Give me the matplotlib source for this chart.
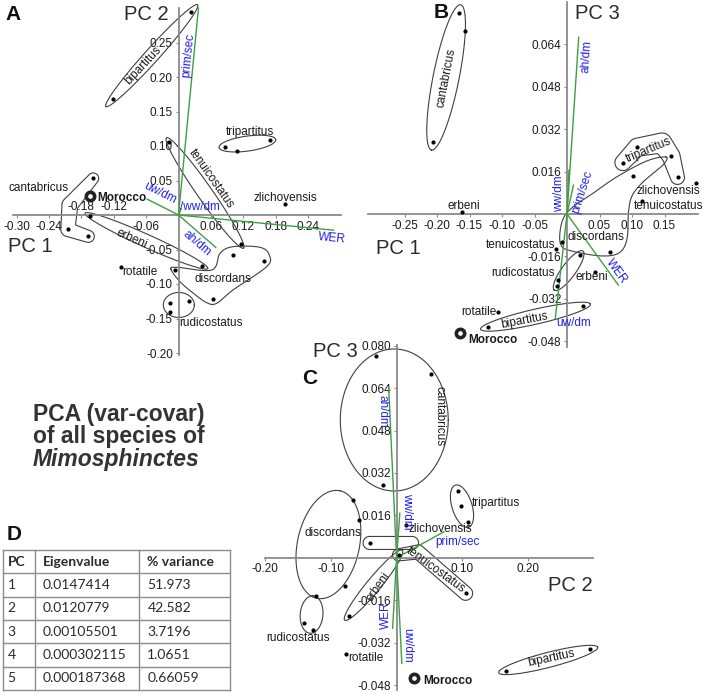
import numpy as np
import matplotlib.pyplot as plt

plt.rcParams['font.family'] = ['Liberation Sans', 'DejaVu Sans']

W, H = 709, 694
GREEN = '#3f9f3f'
BLUE = '#2222e8'
LINE = '#404040'
AXIS = '#8a8a8a'
TXT = '#1a1a1a'

# ---------------- panel A : PC 1 vs PC 2 ----------------
A_pts = {
    'bipartitus': [(0.023, 0.294), (-0.122, 0.168)],
    'tripartitus': [(0.086, 0.099), (0.109, 0.093), (0.169, 0.108)],
    'tenuicostatus': [(-0.017, 0.106), (0.115, -0.042)],
    'zlichovensis': [(0.198, 0.016)],
    'cantabricus': [(-0.158, 0.053), (-0.205, -0.021), (-0.167, -0.031)],
    'erbeni': [(-0.163, -0.001), (0.044, -0.074)],
    'discordans': [(0.100, -0.058), (0.159, -0.066), (0.064, -0.122), (-0.007, -0.080)],
    'rotatile': [(-0.107, -0.075)],
    'rudicostatus': [(-0.016, -0.127), (0.020, -0.124), (-0.016, -0.141)],
}
A_morocco = (-0.164, 0.028)
A_vec = {'prim/sec': (0.037, 0.300), 'uw/dm': (-0.058, 0.023), 'ww/dm': (0.005, 0.009),
         'ah/dm': (0.069, -0.047), 'WER': (0.287, -0.022)}
A_xticks = [-0.30, -0.24, -0.18, -0.12, -0.06, 0.06, 0.12, 0.18, 0.24]
A_yticks = [-0.20, -0.15, -0.10, -0.05, 0.05, 0.10, 0.15, 0.20, 0.25]

# ---------------- panel B : PC 1 vs PC 3 ----------------
B_pts = {
    'cantabricus': [(-0.166, 0.0760), (-0.157, 0.0692), (-0.206, 0.0271)],
    'erbeni': [(-0.162, 0.0006), (0.043, -0.0218)],
    'rotatile': [(-0.106, -0.0369)],
    'bipartitus': [(-0.121, -0.0428), (0.024, -0.0347)],
    'tripartitus': [(0.086, 0.0194), (0.108, 0.0252), (0.160, 0.0219), (0.170, 0.0138)],
    'zlichovensis': [(0.198, 0.0116)],
    'tenuicostatus': [(0.116, 0.0049), (-0.017, -0.0133)],
    'discordans': [(0.101, 0.0143), (-0.007, -0.0105), (0.066, -0.0142)],
    'rudicostatus': [(0.020, -0.0155), (-0.0134, -0.0249), (-0.0149, -0.0272)],
}
B_morocco = (-0.165, -0.0450)
B_vec = {'ah/dm': (0.018, 0.0667), 'ww/dm': (0.003, 0.0166), 'prim/sec': (0.010, 0.0109),
         'WER': (0.079, -0.0268), 'uw/dm': (-0.018, -0.0394)}
B_xticks = [-0.25, -0.20, -0.15, -0.10, -0.05, 0.05, 0.10, 0.15]
B_yticks = [-0.048, -0.032, -0.016, 0.016, 0.032, 0.048, 0.064]

# ---------------- panel C : PC 2 vs PC 3 ----------------
C_pts = {
    'cantabricus': [(-0.031, 0.0762), (0.052, 0.0694), (-0.021, 0.0274)],
    'tripartitus': [(0.094, 0.0253), (0.098, 0.0197), (0.108, 0.0136)],
    'discordans': [(-0.066, 0.0218), (-0.057, 0.0143), (-0.079, -0.0105)],
    'rudicostatus': [(-0.123, -0.0144), (-0.140, -0.0247), (-0.127, -0.0272)],
    'zlichovensis': [(0.014, 0.0122), (-0.041, 0.0056)],
    'tenuicostatus': [(0.003, 0.0011), (0.105, -0.0134)],
    'erbeni': [(-0.073, -0.0218)],
    'rotatile': [(-0.077, -0.0363)],
    'bipartitus': [(0.167, -0.0426), (0.294, -0.0345)],
}
C_morocco = (0.027, -0.0455)
C_vec = {'ah/dm': (-0.012, 0.0643), 'ww/dm': (0.005, 0.0168), 'prim/sec': (0.072, 0.0098),
         'WER': (-0.006, -0.0266), 'uw/dm': (0.008, -0.0398)}
C_xticks = [-0.20, -0.10, 0.10, 0.20]
C_yticks = [-0.048, -0.032, -0.016, 0.016, 0.032, 0.048, 0.064, 0.080]

# ---------------- table D ----------------
TABLE_HEAD = ['PC', 'Eigenvalue', '% variance']
PCS = ['1', '2', '3', '4', '5']
EIGEN = ['0.0147414', '0.0120779', '0.00105501', '0.000302115', '0.000187368']
PCT_VAR = ['51.973', '42.582', '3.7196', '1.0651', '0.66059']

fig = plt.figure(figsize=(W / 100, H / 100), dpi=100)


def make_ax(L, R, T, B, x0, sx, y0, sy):
    ax = fig.add_axes([L / W, 1 - B / H, (R - L) / W, (B - T) / H])
    ax.set_xlim((L - x0) / sx, (R - x0) / sx)
    ax.set_ylim((y0 - B) / sy, (y0 - T) / sy)
    ax.patch.set_visible(False)
    for s in ('top', 'right'):
        ax.spines[s].set_visible(False)
    for s in ('left', 'bottom'):
        ax.spines[s].set_position(('data', 0))
        ax.spines[s].set_color(AXIS)
        ax.spines[s].set_linewidth(1.3)
    ax.tick_params(length=2.5, width=0.8, color=AXIS, labelsize=8.5, pad=1.5,
                   labelcolor=TXT)
    ax.cal = (x0, sx, y0, sy)
    return ax


def to_data(ax, P):
    x0, sx, y0, sy = ax.cal
    P = np.asarray(P, float)
    return (P[:, 0] - x0) / sx, (y0 - P[:, 1]) / sy


def to_px(ax, p):
    x0, sx, y0, sy = ax.cal
    return np.array([x0 + p[0] * sx, y0 - p[1] * sy])


def ell(ax, p, q, ext, r):
    # ellipse enclosing two points, built in pixel space
    a, b = to_px(ax, p), to_px(ax, q)
    c = (a + b) / 2
    d = b - a
    n = np.hypot(*d)
    u = d / n
    v = np.array([-u[1], u[0]])
    t = np.linspace(0, 2 * np.pi, 150)
    P = c + np.outer(np.cos(t), u) * (n / 2 + ext) + np.outer(np.sin(t), v) * r
    ax.plot(*to_data(ax, P), color=LINE, lw=0.8, clip_on=False)


def oval(ax, c, w, h, ang):
    c = to_px(ax, c)
    a = np.radians(ang)
    u = np.array([np.cos(a), -np.sin(a)])
    v = np.array([np.sin(a), np.cos(a)])
    t = np.linspace(0, 2 * np.pi, 150)
    P = c + np.outer(np.cos(t), u) * w / 2 + np.outer(np.sin(t), v) * h / 2
    ax.plot(*to_data(ax, P), color=LINE, lw=0.8, clip_on=False)


def tube(ax, verts, radii):
    # outline of a buffered polyline (distance field contour)
    x0, sx, y0, sy = ax.cal
    P = np.array([to_px(ax, p) for p in verts])
    R = np.asarray(radii, float)
    m = R.max() + 3
    gx = np.arange(P[:, 0].min() - m, P[:, 0].max() + m, 0.5)
    gy = np.arange(P[:, 1].max() + m, P[:, 1].min() - m, -0.5)
    GX, GY = np.meshgrid(gx, gy)
    F = np.full(GX.shape, np.inf)
    for i in range(len(P) - 1):
        a, b = P[i], P[i + 1]
        d = b - a
        t = np.clip(((GX - a[0]) * d[0] + (GY - a[1]) * d[1]) / (d @ d), 0, 1)
        dist = np.hypot(GX - a[0] - t * d[0], GY - a[1] - t * d[1])
        F = np.minimum(F, dist - (R[i] + t * (R[i + 1] - R[i])))
    ax.contour((GX - x0) / sx, (y0 - GY) / sy, F, levels=[0], colors=LINE,
               linewidths=0.8)


def blob(ax, verts, n=14):
    # closed Catmull-Rom curve through outline vertices
    P = np.asarray(verts, float)
    N = len(P)
    t = np.linspace(0, 1, n, endpoint=False)[:, None]
    out = []
    for i in range(N):
        p0, p1, p2, p3 = P[i - 1], P[i], P[(i + 1) % N], P[(i + 2) % N]
        out.append(0.5 * (2 * p1 + (p2 - p0) * t + (2 * p0 - 5 * p1 + 4 * p2 - p3) * t ** 2
                          + (3 * p1 - p0 - 3 * p2 + p3) * t ** 3))
    out = np.vstack(out + [out[0][:1]])
    ax.plot(out[:, 0], out[:, 1], color=LINE, lw=0.8, clip_on=False)


def draw_panel(ax, pts, morocco, vec, xt, yt, xfmt, yfmt):
    for k, (vx, vy) in vec.items():
        ax.plot([0, vx], [0, vy], color=GREEN, lw=1.0, zorder=3, clip_on=False)
    for k, p in pts.items():
        p = np.array(p)
        ax.plot(p[:, 0], p[:, 1], 'o', ms=2.0, color='black', zorder=5, clip_on=False)
    ax.plot(*morocco, 'o', ms=6, mfc='white', mec='#222222', mew=2.6, zorder=6,
            clip_on=False)
    ax.set_xticks(xt, [xfmt.format(v) for v in xt])
    ax.set_yticks(yt, [yfmt.format(v) for v in yt])


def labels(ax, items, color=TXT, weight='normal', size=8.5):
    for s, x, y, rot, ha in items:
        ax.text(x, y, s, rotation=rot, rotation_mode='anchor', ha=ha, va='center',
                color=color, fontsize=size, fontweight=weight, zorder=7)


# ---------- A ----------
axA = make_ax(13, 341, 8, 355, 178.5, 540, 215, 690)
draw_panel(axA, A_pts, A_morocco, A_vec, A_xticks, A_yticks, '{:.2f}', '{:.2f}')
xl = axA.get_xticklabels()
for lab in xl:
    if lab.get_text() in ('-0.18', '-0.12'):
        axA.annotate(lab.get_text(), (float(lab.get_position()[0]), 0), xytext=(0, 1.5),
                     textcoords='offset points', ha='center', va='bottom', fontsize=8.5,
                     color=TXT)
        lab.set_text('')
axA.set_xticks(A_xticks, [lab.get_text() for lab in xl])

ap = A_pts
ell(axA, ap['bipartitus'][0], ap['bipartitus'][1], 10, 7)
ell(axA, ap['tripartitus'][0], ap['tripartitus'][2], 6, 7.5)
ell(axA, ap['tenuicostatus'][0], ap['tenuicostatus'][1], 5, 7.5)
ell(axA, ap['erbeni'][0], ap['erbeni'][1], 6, 6.5)
tube(axA, [ap['cantabricus'][0], (-0.201, 0.0145), ap['cantabricus'][1], ap['cantabricus'][2]],
     [5.5, 8, 7, 6])
blob(axA, [(-0.0139, -0.0787), (-0.0028, -0.0758), (0.0615, -0.0797), (0.0769, -0.0555),
           (0.1009, -0.0459), (0.1509, -0.0468), (0.1681, -0.058), (0.1633, -0.0749),
           (0.1009, -0.1087), (0.0707, -0.128), (0.0522, -0.1271), (0.0269, -0.113),
           (0.0028, -0.0967)])
oval(axA, (0.0006, -0.1304), 31, 25, 0)

labels(axA, [('bipartitus', -0.065, 0.217, 47, 'center'),
             ('tripartitus', 0.132, 0.121, 0, 'center'),
             ('tenuicostatus', 0.061, 0.053, -55, 'center'),
             ('zlichovensis', 0.197, 0.024, 0, 'center'),
             ('cantabricus', -0.260, 0.039, 0, 'center'),
             ('erbeni', -0.087, -0.034, -24, 'center'),
             ('discordans', 0.082, -0.093, 0, 'center'),
             ('rotatile', -0.104, -0.082, 0, 'left'),
             ('rudicostatus', 0.060, -0.156, 0, 'center')])
labels(axA, [('Morocco', -0.151, 0.025, 0, 'left')], weight='bold')
labels(axA, [('prim/sec', 0.018, 0.232, 84.5, 'center'),
             ('uw/dm', -0.034, 0.031, -26.7, 'center'),
             ('/ww/dm', 0.039, 0.012, 0, 'center'),
             ('ah/dm', 0.034, -0.041, -40.7, 'center'),
             ('WER', 0.284, -0.034, -5.5, 'center')], color=BLUE)
labels(axA, [('PC 2', -0.059, 0.291, 0, 'center'), ('PC 1', -0.275, -0.046, 0, 'center')],
       size=14.5, color='#2a2a2a')

# ---------- B ----------
axB = make_ax(368, 698, 2, 347, 567, 650, 214, 2650)
draw_panel(axB, B_pts, B_morocco, B_vec, B_xticks, B_yticks, '{:.2f}', '{:.3f}')
bp = B_pts
ell(axB, bp['cantabricus'][0], bp['cantabricus'][2], 8, 13)
ell(axB, bp['bipartitus'][0], bp['bipartitus'][1], 8, 7.5)
ell(axB, bp['rudicostatus'][0], bp['rudicostatus'][2], 5, 7)
tr = bp['tripartitus']
tube(axB, [tr[0], tr[1], (0.146, 0.0268), tr[2], tr[3]], [8, 9, 10, 9, 7])
blob(axB, [(0.1523, 0.0215), (0.1226, 0.0200), (0.0765, 0.0140), (0.0405, 0.0079),
           (0.0108, 0.0030), (-0.0046, -0.0011), (-0.0108, -0.0068), (-0.0092, -0.0117),
           (0.0046, -0.0138), (0.0508, -0.0158), (0.0800, -0.0147), (0.0923, -0.0094),
           (0.0946, 0.0008), (0.1000, 0.0068), (0.1149, 0.0116), (0.1328, 0.0154),
           (0.1492, 0.0189)])

labels(axB, [('cantabricus', -0.186, 0.0512, 79, 'center'),
             ('erbeni', -0.158, 0.0030, 0, 'center'),
             ('erbeni', 0.038, -0.0237, 0, 'center'),
             ('rotatile', -0.108, -0.0370, 0, 'right'),
             ('bipartitus', -0.066, -0.0403, 11, 'center'),
             ('tripartitus', 0.126, 0.0242, 23, 'center'),
             ('zlichovensis', 0.156, 0.0088, 0, 'center'),
             ('tenuicostatus', 0.156, 0.0030, 0, 'center'),
             ('tenuicostatus', -0.072, -0.0117, 0, 'center'),
             ('discordans', 0.045, -0.0086, 0, 'center'),
             ('rudicostatus', -0.067, -0.0222, 0, 'center')])
labels(axB, [('Morocco', -0.152, -0.0475, 0, 'left')], weight='bold')
labels(axB, [('ah/dm', 0.030, 0.0594, 86, 'center'),
             ('ww/dm', -0.013, 0.0078, 90, 'center'),
             ('prim/sec', 0.023, 0.0084, 72, 'center'),
             ('WER', 0.076, -0.0218, -54, 'center'),
             ('uw/dm', 0.0097, -0.0412, 0, 'center')], color=BLUE)
labels(axB, [('PC 3', 0.046, 0.0755, 0, 'center'), ('PC 1', -0.260, -0.0129, 0, 'center')],
       size=14.5, color='#2a2a2a')

# ---------- C ----------
axC = make_ax(265, 593, 345, 690, 396.5, 658, 557.8, 2650)
draw_panel(axC, C_pts, C_morocco, C_vec, C_xticks, C_yticks, '{:.2f}', '{:.3f}')
cp = C_pts
oval(axC, (-0.0035, 0.052), 108, 142, 0)
oval(axC, (-0.1036, 0.005), 110, 62, 77.8)
oval(axC, (-0.1292, -0.0214), 37.6, 22.7, 85)
oval(axC, (0.0995, 0.0195), 44, 20, -72.5)
ell(axC, cp['erbeni'][0], cp['tenuicostatus'][0], 6, 7)
ell(axC, cp['bipartitus'][0], cp['bipartitus'][1], 8, 7.5)
tube(axC, [cp['zlichovensis'][1], (0.0236, 0.0056)], [6.5, 6.5])
tube(axC, [cp['tenuicostatus'][0], (0.0327, 0.0022), cp['tenuicostatus'][1]], [6, 7, 7])

labels(axC, [('cantabricus', 0.065, 0.0535, -90, 'center'),
             ('tripartitus', 0.114, 0.0206, 0, 'left'),
             ('discordans', -0.096, 0.0092, 0, 'center'),
             ('zlichovensis', 0.066, 0.0108, 0, 'center'),
             ('tenuicostatus', 0.059, -0.0046, -36, 'center'),
             ('erbeni', -0.028, -0.0109, 55, 'center'),
             ('rudicostatus', -0.150, -0.0304, 0, 'center'),
             ('rotatile', -0.073, -0.0379, 0, 'left'),
             ('bipartitus', 0.236, -0.0379, 12, 'center')])
labels(axC, [('Morocco', 0.040, -0.0464, 0, 'left')], weight='bold')
labels(axC, [('ah/dm', -0.022, 0.0551, -90, 'center'),
             ('ww/dm', 0.016, 0.0174, -90, 'center'),
             ('prim/sec', 0.092, 0.0058, 0, 'center'),
             ('WER', -0.016, -0.0216, 90, 'center'),
             ('uw/dm', 0.017, -0.0329, -90, 'center')], color=BLUE)
labels(axC, [('PC 3', -0.093, 0.0778, 0, 'center'), ('PC 2', 0.264, -0.0103, 0, 'center')],
       size=14.5, color='#2a2a2a')

# ---------- overlay: panel letters, title, table ----------
ov = fig.add_axes([0, 0, 1, 1], zorder=-1)
ov.set_xlim(0, W)
ov.set_ylim(H, 0)
ov.axis('off')
for s, x, y in [('A', 5, 14), ('B', 434, 12), ('C', 302, 378), ('D', 7, 534)]:
    ov.text(x, y, s, fontsize=15, fontweight='bold', va='center', ha='left', color='#111111')

ov.text(33, 420.5, 'PCA (var-covar)', fontsize=16.5, fontweight='bold', color='#333333',
        va='baseline')
ov.text(33, 443.3, 'of all species of', fontsize=16.5, fontweight='bold', color='#333333',
        va='baseline')
ov.text(33, 466, 'Mimosphinctes', fontsize=16.5, fontweight='bold', style='italic',
        color='#333333', va='baseline')

col_x = [2.7, 35, 139.3, 230]
row_h = 23.33
top = 550
nrow = len(PCS) + 1
for k in range(nrow + 1):
    ov.plot([col_x[0], col_x[-1]], [top + k * row_h] * 2, color='#8c8c8c', lw=1.0)
for x in col_x:
    ov.plot([x, x], [top, top + nrow * row_h], color='#8c8c8c', lw=1.0)
pads = [5, 8, 8]
for j, h in enumerate(TABLE_HEAD):
    ov.text(col_x[j] + pads[j], top + row_h / 2, h, fontsize=10, fontweight='bold',
            family=['Lato', 'DejaVu Sans'], va='center', color='#2b2b2b')
for i, row in enumerate(zip(PCS, EIGEN, PCT_VAR)):
    for j, v in enumerate(row):
        ov.text(col_x[j] + pads[j], top + (i + 1.5) * row_h, v, fontsize=10,
                family=['Lato', 'DejaVu Sans'], va='center', color='#2b2b2b')

fig.savefig('out.png', dpi=100)
